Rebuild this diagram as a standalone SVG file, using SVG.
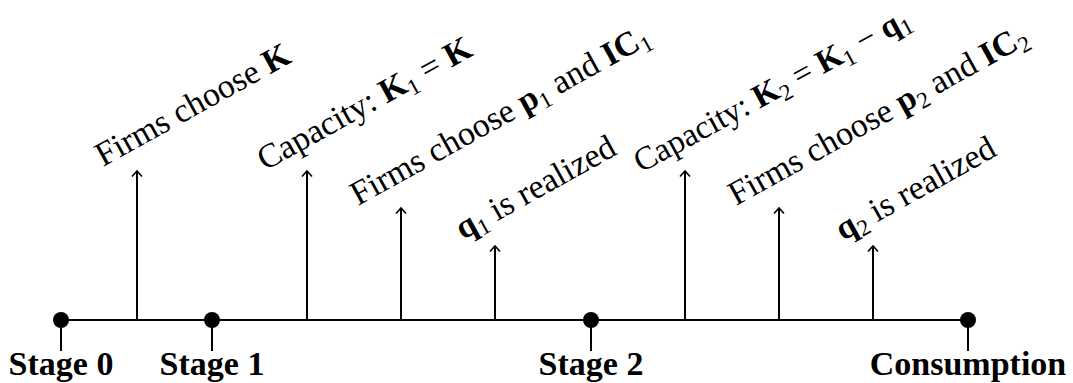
<svg xmlns="http://www.w3.org/2000/svg" width="1073" height="383" viewBox="0 0 1073 383">
<style>
.line{stroke:#000;stroke-width:2;fill:none}
.arr{stroke:#000;stroke-width:2;fill:none;marker-end:url(#ah)}
.dot{fill:#000}
.lbl{font-family:"Liberation Serif",serif;font-size:34px;fill:#000}
.st{font-family:"Liberation Serif",serif;font-size:34px;font-weight:bold;fill:#000;text-anchor:middle}
.b{font-weight:bold}
.sub{font-size:23px}
</style>
<defs>
<marker id="ah" markerUnits="userSpaceOnUse" markerWidth="12" markerHeight="12" refX="0" refY="0" orient="auto" style="overflow:visible">
<path d="M -5.5 -5 L 0 0 L -5.5 5" fill="none" stroke="#000" stroke-width="1.6"/>
</marker>
</defs>
<g id="connectors">
<line class="line" x1="61" y1="320" x2="968" y2="320"/>
<line class="line" x1="61" y1="320" x2="61" y2="351"/>
<line class="line" x1="212" y1="320" x2="212" y2="351"/>
<line class="line" x1="591" y1="320" x2="591" y2="351"/>
<line class="line" x1="968" y1="320" x2="968" y2="351"/>
<line class="arr" x1="137" y1="320" x2="137" y2="171"/>
<line class="arr" x1="307" y1="320" x2="307" y2="171"/>
<line class="arr" x1="401" y1="320" x2="401" y2="208"/>
<line class="arr" x1="495" y1="320" x2="495" y2="246"/>
<line class="arr" x1="685" y1="320" x2="685" y2="171"/>
<line class="arr" x1="779" y1="320" x2="779" y2="208"/>
<line class="arr" x1="873" y1="320" x2="873" y2="246"/>
</g>
<g id="stage0"><circle class="dot" cx="61" cy="320" r="8"/><text class="st" x="61" y="375">Stage 0</text></g>
<g id="stage1"><circle class="dot" cx="212" cy="320" r="8"/><text class="st" x="212" y="375">Stage 1</text></g>
<g id="stage2"><circle class="dot" cx="591" cy="320" r="8"/><text class="st" x="591" y="375">Stage 2</text></g>
<g id="consumption"><circle class="dot" cx="968" cy="320" r="8"/><text class="st" x="968" y="375">Consumption</text></g>
<g id="ev1"><text class="lbl" transform="translate(103,167) rotate(-29)">Firms choose <tspan class="b">K</tspan></text></g>
<g id="ev2"><text class="lbl" transform="translate(265,171) rotate(-29)">Capacity: <tspan class="b">K</tspan><tspan class="sub" dy="6">1</tspan><tspan dy="-6"> = </tspan><tspan class="b">K</tspan></text></g>
<g id="ev3"><text class="lbl" transform="translate(358,206) rotate(-29)">Firms choose <tspan class="b">p</tspan><tspan class="sub" dy="6">1</tspan><tspan dy="-6"> and </tspan><tspan class="b">IC</tspan><tspan class="sub" dy="6">1</tspan></text></g>
<g id="ev4"><text class="lbl" transform="translate(463,240) rotate(-29)"><tspan class="b">q</tspan><tspan class="sub" dy="6">1</tspan><tspan dy="-6"> is realized</tspan></text></g>
<g id="ev5"><text class="lbl" style="font-size:33px" transform="translate(641,173) rotate(-28.5)">Capacity: <tspan class="b">K</tspan><tspan class="sub" dy="6">2</tspan><tspan dy="-6"> = </tspan><tspan class="b">K</tspan><tspan class="sub" dy="6">1</tspan><tspan dy="-6"> − </tspan><tspan class="b">q</tspan><tspan class="sub" dy="6">1</tspan></text></g>
<g id="ev6"><text class="lbl" transform="translate(736,206) rotate(-29)">Firms choose <tspan class="b">p</tspan><tspan class="sub" dy="6">2</tspan><tspan dy="-6"> and </tspan><tspan class="b">IC</tspan><tspan class="sub" dy="6">2</tspan></text></g>
<g id="ev7"><text class="lbl" transform="translate(843,241) rotate(-29)"><tspan class="b">q</tspan><tspan class="sub" dy="6">2</tspan><tspan dy="-6"> is realized</tspan></text></g>
</svg>
